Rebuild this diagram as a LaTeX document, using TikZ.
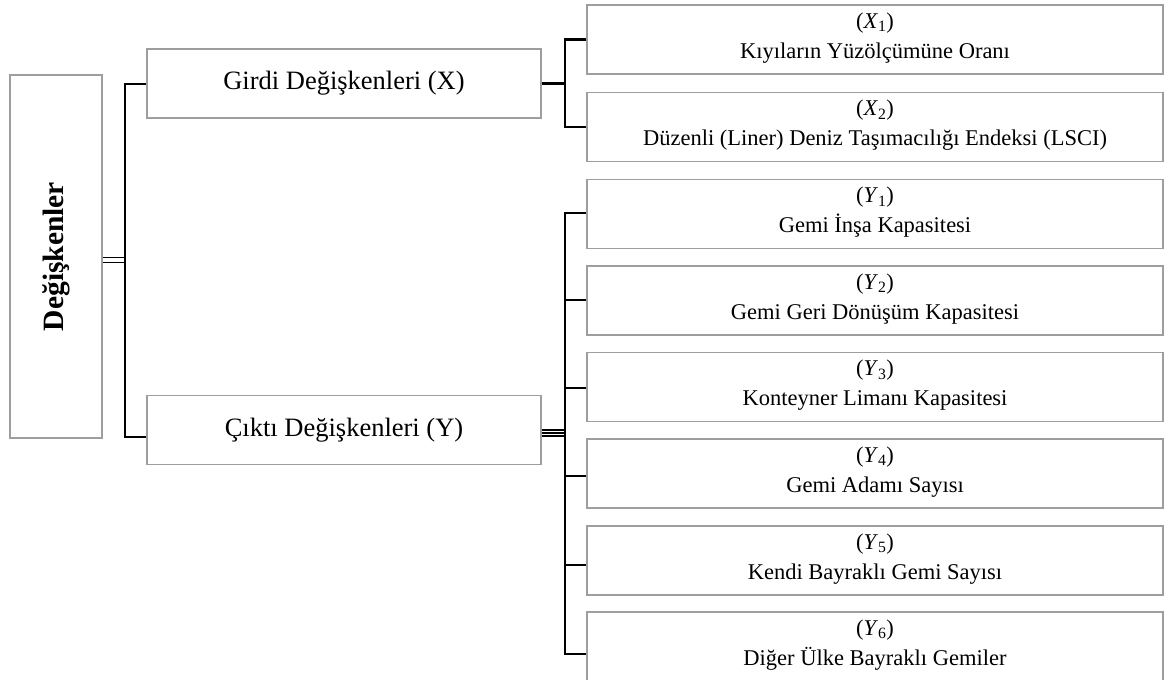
\documentclass[tikz,border=0pt]{standalone}
\usepackage{fontspec}
\setmainfont{Liberation Serif}
\usetikzlibrary{calc}
% two-line label: variable symbol over its name, lifted slightly in the box
\newcommand{\varlabel}[3]{(\textit{#1}\textsubscript{#2})\\[3pt]#3\rule[-8pt]{0pt}{0pt}}
\begin{document}
\begin{tikzpicture}[x=1pt,y=-1pt,
  box/.style={draw=black!38,line width=1.2pt,rectangle,inner sep=0pt,align=center},
  rootbox/.style={box,minimum width=92pt,minimum height=363pt},
  groupbox/.style={box,minimum width=394pt,minimum height=69pt,font=\fontsize{26.5}{32}\selectfont},
  leafbox/.style={box,minimum width=576pt,minimum height=69pt,font=\fontsize{22.5}{27}\selectfont},
  link/.style={draw=black,line width=2.2pt},
  thin/.style={draw=black,line width=1.4pt}]
\useasboundingbox (0,0) rectangle (1165,680);

% root and group boxes
\node[rootbox] (root) at (56,256.5) {};
\node[rotate=90,font=\fontsize{29.5}{34}\selectfont\bfseries] (roottext) at (root.center) {Değişkenler};
\node[groupbox] (girdi) at (344,83.5) {Girdi Değişkenleri (X)};
\node[groupbox] (cikti) at (344,430) {Çıktı Değişkenleri (Y)};

% input variables
\node[leafbox] (x1) at (875,39.5) {\varlabel{X}{1}{Kıyıların Yüzölçümüne Oranı}};
\node[leafbox] (x2) at (875,127) {\varlabel{X}{2}{Düzenli (Liner) Deniz Taşımacılığı Endeksi (LSCI)}};

% output variables
\node[leafbox] (y1) at (875,214) {\varlabel{Y}{1}{Gemi İnşa Kapasitesi}};
\node[leafbox] (y2) at (875,300.5) {\varlabel{Y}{2}{Gemi Geri Dönüşüm Kapasitesi}};
\node[leafbox] (y3) at (875,387) {\varlabel{Y}{3}{Konteyner Limanı Kapasitesi}};
\node[leafbox] (y4) at (875,473.5) {\varlabel{Y}{4}{Gemi Adamı Sayısı}};
\node[leafbox] (y5) at (875,560.5) {\varlabel{Y}{5}{Kendi Bayraklı Gemi Sayısı}};
\node[leafbox] (y6) at (875,646.5) {\varlabel{Y}{6}{Diğer Ülke Bayraklı Gemiler}};

% spine positions
\coordinate (sa) at (125,0);
\coordinate (sb) at (565,0);

% root -> groups
\draw[thin] ($(root.east)+(0,1)$) -- ($(root.east -| sa)+(0,1)$);
\draw[thin] ($(root.east)+(0,6)$) -- ($(root.east -| sa)+(0,6)$);
\draw[link] ($(girdi.west)+(0,0.5)$) -| ($(cikti.west -| sa)+(0,7)$) -- ($(cikti.west)+(0,7)$);

% girdi -> X
\draw[link,line width=3.4pt] (girdi.east) -- (girdi.east -| sb);
\draw[link] (x1.west) -| (x2.west -| sb) -- (x2.west);

% cikti -> Y
\foreach \d in {0,3,6}
  \draw[thin] ($(cikti.east)+(0,\d)$) -- ($(cikti.east -| sb)+(0,\d)$);
\draw[link] ($(y1.west)+(0,-1)$) -| ($(y6.west -| sb)+(0,7.5)$) -- ($(y6.west)+(0,7.5)$);
\draw[link] ($(y2.west -| sb)+(0,-0.5)$) -- ($(y2.west)+(0,-0.5)$);
\draw[link] ($(y3.west -| sb)+(0,1)$) -- ($(y3.west)+(0,1)$);
\draw[link] ($(y4.west -| sb)+(0,2.5)$) -- ($(y4.west)+(0,2.5)$);
\draw[link] ($(y5.west -| sb)+(0,4.5)$) -- ($(y5.west)+(0,4.5)$);
\end{tikzpicture}
\end{document}
